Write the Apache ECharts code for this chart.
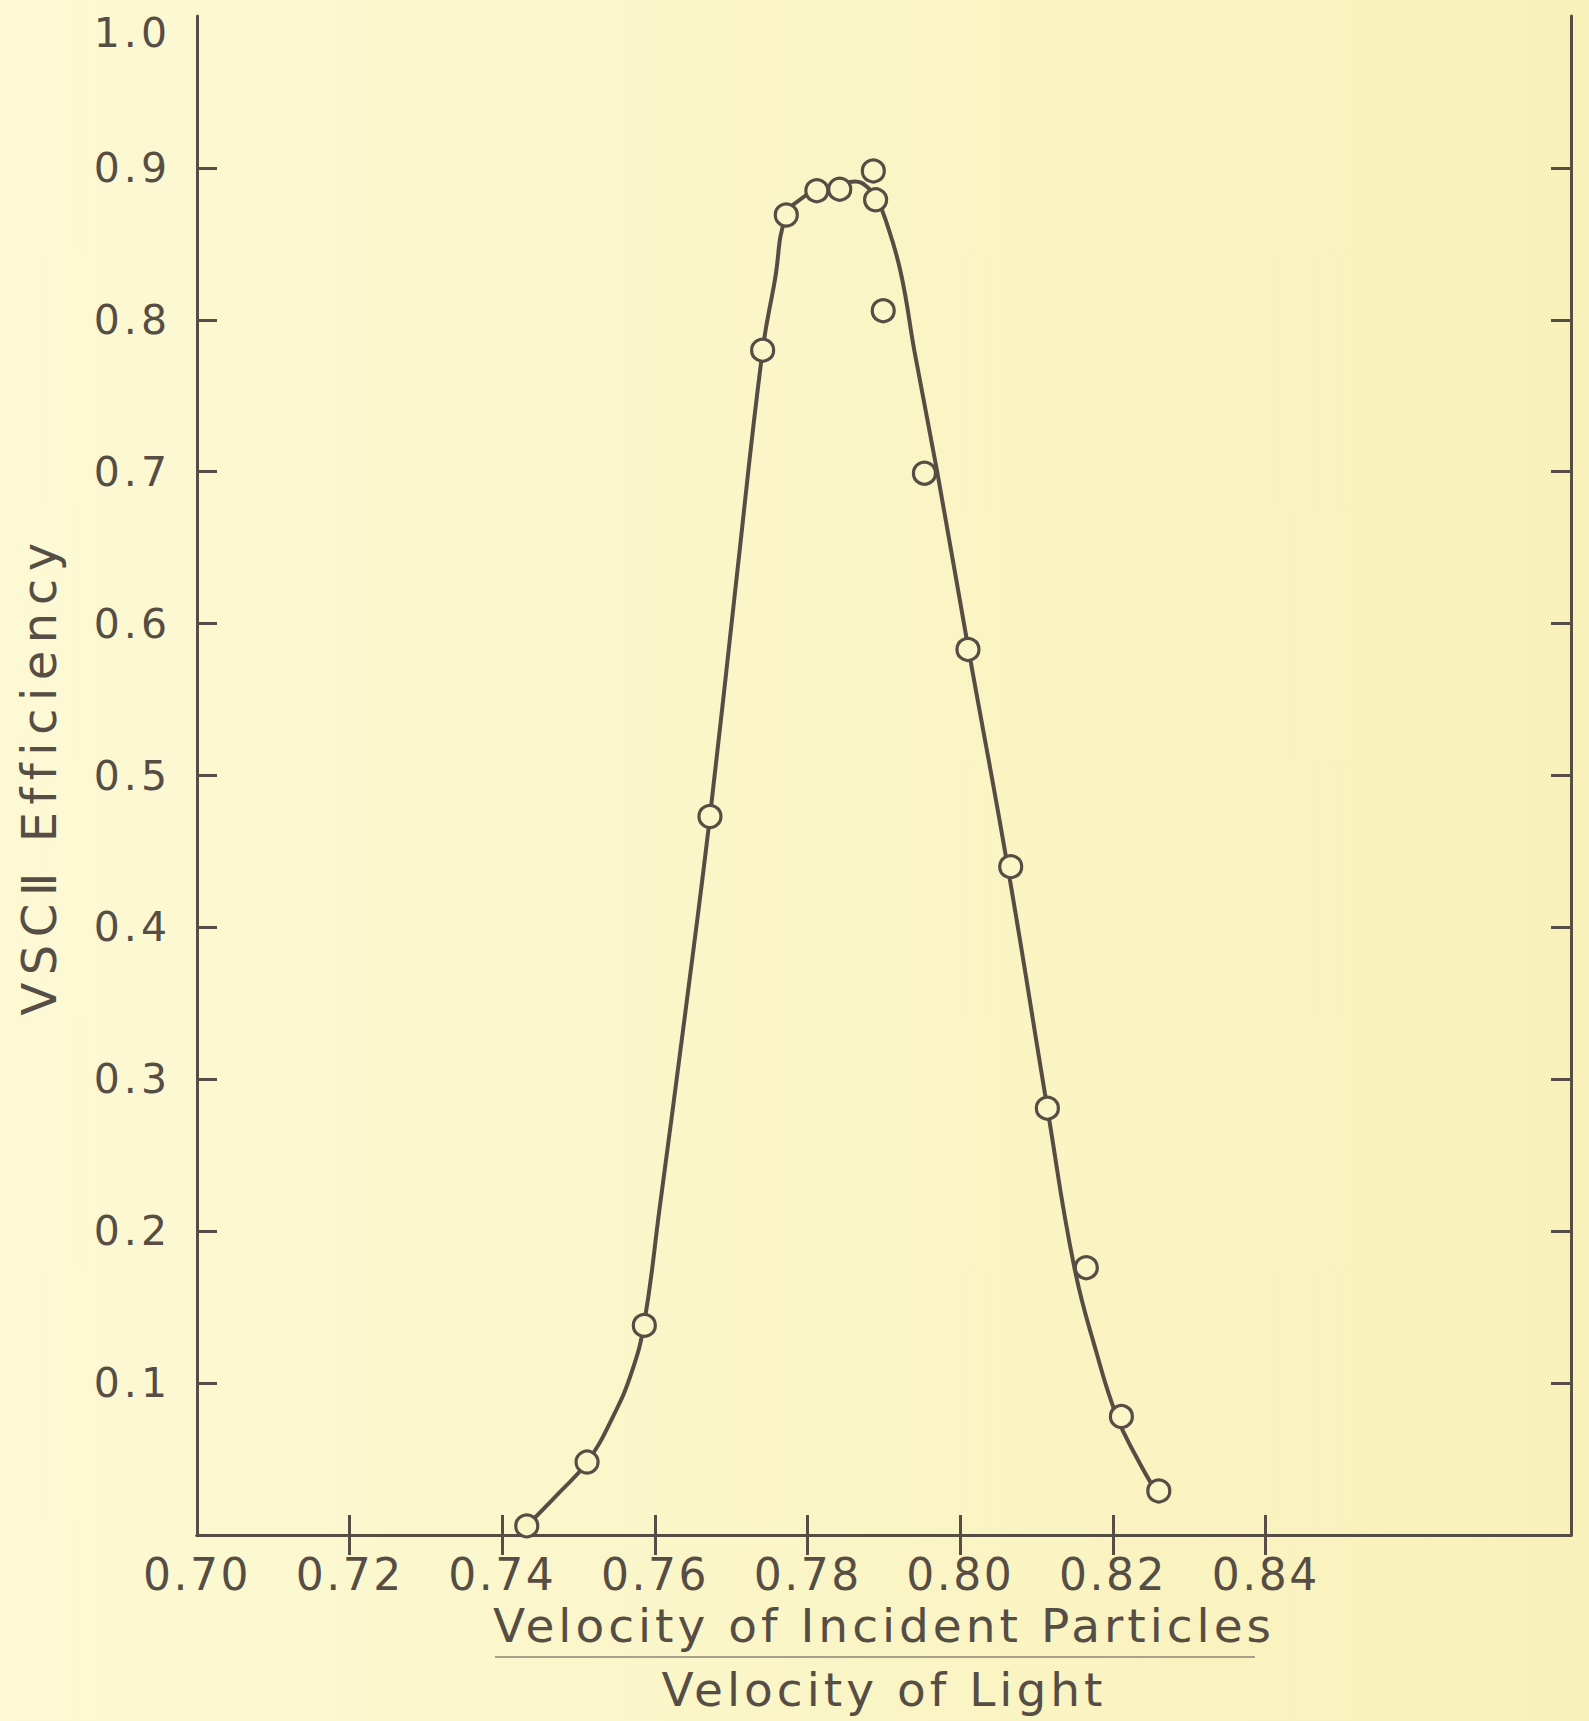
<!DOCTYPE html>
<html>
<head>
<meta charset="utf-8">
<script src="https://cdn.jsdelivr.net/npm/echarts@6/dist/echarts.min.js"></script>
<style>
html, body { margin: 0; padding: 0; background: #fbf6c8; }
#chart { width: 1589px; height: 1721px;
  background: linear-gradient(to right, #fcf9d4 0%, #fbf6c8 45%, #f9f1ba 100%); }
#chart text[style*="41px"] { letter-spacing: 4px; }
#chart text[style*="44px"] { letter-spacing: 2.5px; }
#chart text[style*="47px"] { letter-spacing: 4px; }
#chart text[style*="48px"] { letter-spacing: 7.5px; }
</style>
</head>
<body>
<div id="chart"></div>
<script>
// Measured data points (velocity ratio, efficiency)
const pointX = [0.7432, 0.7511, 0.7586, 0.7672, 0.7741, 0.7772, 0.7812, 0.7842, 0.7886,
                0.7889, 0.7899, 0.7953, 0.8010, 0.8066, 0.8114, 0.8165, 0.8211, 0.8260];
const pointY = [0.006, 0.048, 0.138, 0.473, 0.780, 0.869, 0.885, 0.886, 0.898,
                0.879, 0.806, 0.699, 0.583, 0.440, 0.281, 0.176, 0.078, 0.029];

// Hand-drawn fitted curve
const curveX = [0.7432, 0.7473, 0.7511, 0.7545, 0.7570, 0.7586, 0.7606, 0.7640, 0.7672,
                0.7706, 0.7741, 0.7757, 0.7772, 0.7795, 0.7814, 0.7840, 0.7862, 0.7879,
                0.7891, 0.7902, 0.7922, 0.7940, 0.7970, 0.8010, 0.8062, 0.8114, 0.8149,
                0.8179, 0.8205, 0.8231, 0.8257];
const curveY = [0.006, 0.027, 0.048, 0.078, 0.108, 0.140, 0.215, 0.345, 0.473,
                0.626, 0.780, 0.826, 0.869, 0.881, 0.886, 0.889, 0.891, 0.887,
                0.879, 0.866, 0.831, 0.779, 0.699, 0.585, 0.440, 0.281, 0.177,
                0.119, 0.078, 0.051, 0.028];

// Axis ticks and labels
const xLabelValues = [0.70, 0.72, 0.74, 0.76, 0.78, 0.80, 0.82, 0.84];
const xTickValues = [0.72, 0.74, 0.76, 0.78, 0.80, 0.82, 0.84];
const yLabelValues = [0.1, 0.2, 0.3, 0.4, 0.5, 0.6, 0.7, 0.8, 0.9, 1.0];
const yTickValues = [0.1, 0.2, 0.3, 0.4, 0.5, 0.6, 0.7, 0.8, 0.9];

const xTitle = 'Velocity of Incident Particles\nVelocity of Light';
const yTitle = 'VSC\u2161 Efficiency';

const ink = '#564d44';
const paper = '#fbf6c8';
const fontFamily = '"DejaVu Sans", "Liberation Sans", sans-serif';

const chart = echarts.init(document.getElementById('chart'), null, { renderer: 'svg' });

const axisLineStyle = { show: true, lineStyle: { color: ink, width: 3 } };
const tickStyle = (vals) => ({ show: true, inside: true, length: 20, customValues: vals, lineStyle: { color: ink, width: 3 } });

chart.setOption({
  backgroundColor: 'transparent',
  animation: false,
  grid: { left: 197, right: 18, top: 16, bottom: 186, show: false, outerBoundsMode: 'none', containLabel: false },
  xAxis: [
    {
      type: 'value', min: 0.70, max: 0.88, interval: 0.02, position: 'bottom',
      axisLine: axisLineStyle,
      axisTick: tickStyle(xTickValues),
      splitLine: { show: false },
      axisLabel: {
        customValues: xLabelValues, margin: 17, color: ink, fontSize: 44, fontFamily: fontFamily,
        formatter: (v) => v.toFixed(2)
      },
      name: xTitle, nameLocation: 'middle', nameGap: 58, nameMoveOverlap: false,
      nameTextStyle: { color: ink, fontSize: 47, fontFamily: fontFamily, lineHeight: 64 }
    },
    {
      type: 'value', min: 0.70, max: 0.88, interval: 0.02, position: 'top',
      axisLine: axisLineStyle,
      axisTick: tickStyle(xTickValues),
      splitLine: { show: false },
      axisLabel: { show: false }
    }
  ],
  yAxis: [
    {
      type: 'value', min: 0, max: 1.0, interval: 0.1, position: 'left',
      axisLine: axisLineStyle,
      axisTick: tickStyle(yTickValues),
      splitLine: { show: false },
      axisLabel: {
        customValues: yLabelValues, margin: 26, color: ink, fontSize: 41, fontFamily: fontFamily,
        formatter: (v) => v >= 0.999 ? '{top|' + v.toFixed(1) + '}' : v.toFixed(1),
        rich: { top: { fontSize: 41, fontFamily: fontFamily, color: ink, padding: [34, 0, 0, 0] } }
      },
      name: yTitle, nameLocation: 'middle', nameGap: 134, nameRotate: 90, nameMoveOverlap: false,
      nameTextStyle: { color: ink, fontSize: 48, fontFamily: fontFamily }
    },
    {
      type: 'value', min: 0, max: 1.0, interval: 0.1, position: 'right',
      axisLine: axisLineStyle,
      axisTick: tickStyle(yTickValues),
      splitLine: { show: false },
      axisLabel: { show: false }
    }
  ],
  graphic: [
    {
      type: 'line', z: 10,
      shape: { x1: 495, y1: 1657, x2: 1255, y2: 1657 },
      style: { stroke: '#8d8476', lineWidth: 1.5 }
    }
  ],
  series: [
    {
      type: 'line', xAxisIndex: 0, yAxisIndex: 0,
      data: curveX.map((x, i) => [x, curveY[i]]),
      showSymbol: false, smooth: 0.45,
      lineStyle: { color: ink, width: 4 },
      z: 2
    },
    {
      type: 'scatter', xAxisIndex: 0, yAxisIndex: 0,
      data: pointX.map((x, i) => [x, pointY[i]]),
      symbol: 'circle', symbolSize: 22,
      itemStyle: { color: paper, borderColor: ink, borderWidth: 3.2, opacity: 1 },
      z: 3
    }
  ]
});
</script>
</body>
</html>
